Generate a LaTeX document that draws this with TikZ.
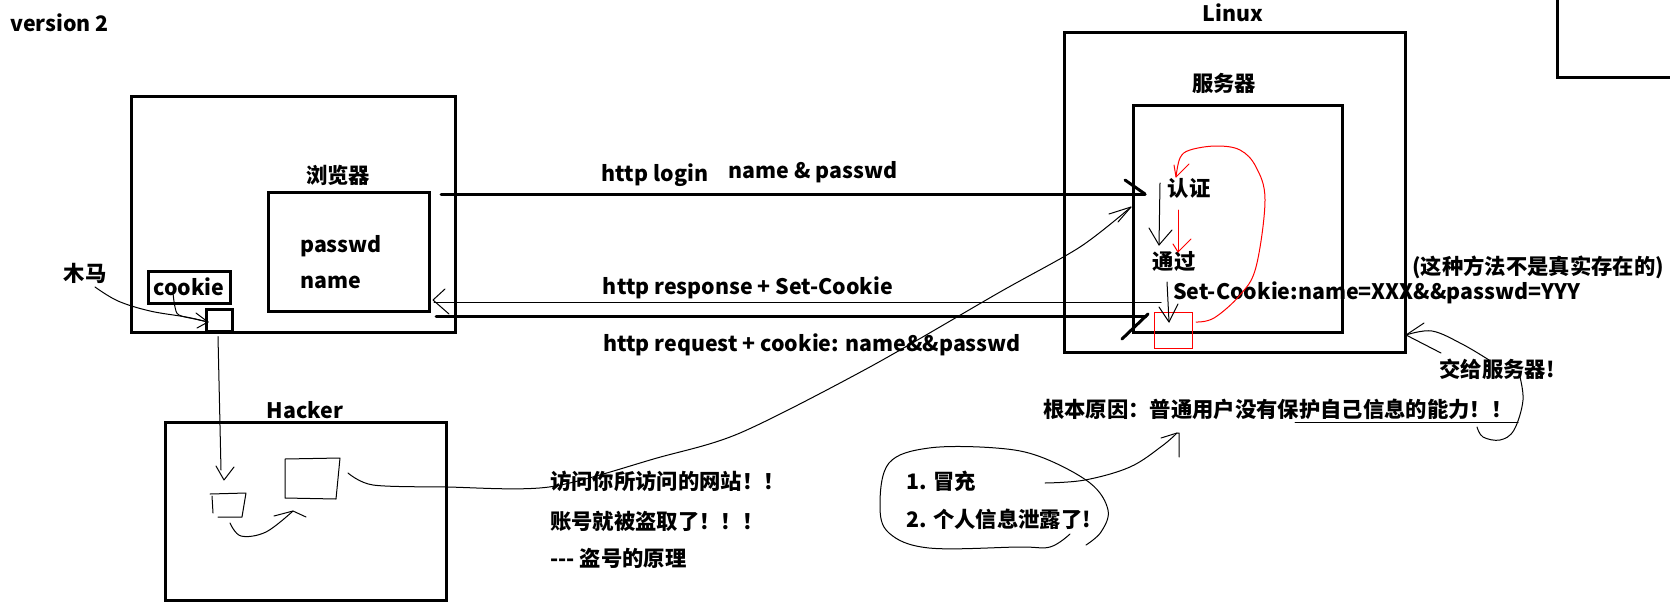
\documentclass[tikz,border=0pt]{standalone}
\usepackage{fontspec}
\setmainfont{Noto Sans CJK SC}
\usetikzlibrary{fit}
\begin{document}
\begin{tikzpicture}[x=0.75pt,y=-0.75pt,
  box/.style={draw, line width=2.25pt, inner sep=0pt},
  thinbox/.style={draw, line width=0.75pt, inner sep=0pt},
  lbl/.style={font=\bfseries\fontsize{16}{18}\selectfont, inner sep=0pt},
  hand/.style={line width=0.75pt, line cap=round, line join=round},
  thickln/.style={line width=2.25pt, line cap=round}]
\useasboundingbox (0,0) rectangle (1670,607);

% ---------- boxes ----------
\node[box, fit={(131,96) (455,332)}] (browser) {};
\node[box, fit={(268,192) (429,311)}] (bwin) {};
\node[box, fit={(148,271) (230,303)}] (cookiebox) {};
\node[box, fit={(206,309) (232,331)}] (trojan) {};
\node[box, fit={(1064,32) (1405,352)}] (linux) {};
\node[box, fit={(1133,105) (1342,332)}] (server) {};
\node[thinbox, draw=red, fit={(1154,312) (1192,348)}] (redbox) {};
\node[box, fit={(165,422) (446,600)}] (hacker) {};
\coordinate (tr1) at (1557,0);
\coordinate (tr2) at (1557,77);
\coordinate (tr3) at (1670,77);
\draw[line width=2.25pt] (tr1) -- (tr2) -- (tr3);

% ---------- texts ----------
\node[lbl, anchor=west] (v2) at (10,23) {version 2};
\node[lbl] (tbrowser) at (338,175) {浏览器};
\node[lbl, anchor=west] (tpass) at (300,246) {passwd};
\node[lbl, anchor=west] (tname) at (300,282) {name};
\node[lbl] (tmuma) at (85,273) {木马};
\node[lbl] (tcookie) at (189,287) {cookie};
\node[lbl] (tlogin) at (655,175) {http login};
\node[lbl] (tnp) at (813,172) {name \& passwd};
\node[lbl] (tresp) at (748,288) {http response + Set-Cookie};
\node[lbl] (treq) at (812,345) {http request + cookie: name\&\&passwd};
\node[lbl] (tlinux) at (1233,13) {Linux};
\node[lbl] (tserver) at (1224,83) {服务器};
\node[lbl] (tauth) at (1189,188) {认证};
\node[lbl] (tpass2) at (1174,262) {通过};
\node[lbl, anchor=west] (tset) at (1173,293) {Set-Cookie:name=XXX\&\&passwd=YYY};
\node[lbl] (tnote) at (1538,267) {(这种方法不是真实存在的)};
\node[lbl] (tgive) at (1497,369) {交给服务器!};
\node[lbl, anchor=west] (treason) at (1043,409) {根本原因：普通用户没有保护自己信息的能力！！};
\node[lbl] (thacker) at (305,410) {Hacker};
\node[lbl, anchor=west] (tvisit) at (550,481) {访问你所访问的网站！！};
\node[lbl, anchor=west] (tstolen) at (550,521) {账号就被盗取了！！！};
\node[lbl, anchor=west] (tprinc) at (550,558) {-{}-{}- 盗号的原理};
\node[lbl, anchor=west] (tfake) at (906,481) {1. 冒充};
\node[lbl, anchor=west] (tleak) at (906,519) {2. 个人信息泄露了!};

% ---------- main arrows ----------
\coordinate (a1s) at (441,194);
\coordinate (a1e) at (1145,194);
\coordinate (a1b) at (1125,180);
\draw[thickln] (a1s) -- (a1e);
\draw[thickln] (a1b) -- (a1e);

\coordinate (a2s) at (1161,302);
\coordinate (a2e) at (433,300);
\draw[hand] (a2s) -- (434,302);
\draw[hand] (445,289) -- (a2e) -- (449,314);

\coordinate (a3s) at (436,316);
\coordinate (a3e) at (1146,316);
\coordinate (a3b) at (1122,339);
\draw[thickln] (a3s) -- (a3e);
\draw[thickln] (a3b) -- (1148,314);

% trojan -> hacker
\coordinate (vt) at (224,480);
\draw[hand] (trojan.south) ++(-1,4) coordinate (vs) -- (221,470);
\draw[hand] (216,466) -- (vt) -- (234,467);

% muma -> trojan, cookie -> trojan
\coordinate (mu1) at (95,287);
\coordinate (mu2) at (208,322);
\draw[hand] plot[smooth, tension=0.6] coordinates {(mu1) (118,301) (150,311) (186,317) (mu2)};
\draw[hand] (196,313) -- (mu2) -- (197,328);
\coordinate (ck1) at (173,293);
\draw[hand] plot[smooth, tension=0.6] coordinates {(ck1) (175,307) (179,315) (195,319) (mu2)};

% hacker boxes
\draw[hand] (210,494) -- (246,493) -- (242,517) -- (218,517);
\draw[hand] (212,496) -- (213,513);
\draw[hand] (285,459) -- (340,458) -- (336,499) -- (285,498) -- cycle;
\coordinate (hc1) at (230,523);
\coordinate (hc2) at (293,511);
\draw[hand] plot[smooth, tension=0.6] coordinates {(hc1) (241,536) (266,532) (hc2)};
\draw[hand] (274,516) -- (hc2) -- (306,517);

% hacker -> server
\coordinate (hk1) at (348,473);
\coordinate (hk2) at (1131,207);
\draw[hand] plot[smooth, tension=0.5] coordinates {(hk1) (373,485) (446,487) (549,487) (657,458) (740,433) (868,368) (1000,292) (1080,247) (hk2)};
\draw[hand] (1109,214) -- (hk2) -- (1118,222);

% inside server
\coordinate (s1) at (1160,183);
\coordinate (s2) at (1159,245);
\draw[hand] (s1) -- (s2);
\draw[hand] (1149,228) -- (s2) -- (1172,230);
\coordinate (r1) at (1178,210);
\coordinate (r2) at (1178,252);
\draw[hand, red] (r1) -- (r2);
\draw[hand, red] (1173,244) -- (r2) -- (1191,239);
\coordinate (p1) at (1167,282);
\coordinate (p2) at (1169,322);
\draw[hand] (p1) -- (p2);
\draw[hand] (1159,307) -- (p2) -- (1178,304);
\coordinate (rc1) at (1196,322);
\coordinate (rc2) at (1176,177);
\draw[hand, red] plot[smooth, tension=0.6] coordinates {(rc1) (1214,318) (1240,295) (1256,267) (1265,200) (1256,167) (1240,150) (1216,146) (1190,150) (1180,158) (rc2)};
\draw[hand, red] (1174,165) -- (rc2) -- (1189,164);

% give to server
\coordinate (g1) at (1489,360);
\coordinate (g2) at (1406,335);
\draw[hand] plot[smooth, tension=0.6] coordinates {(g1) (1462,344) (1432,331) (g2)};
\draw[hand] (1424,323) -- (g2) -- (1441,353);
\coordinate (g3) at (1519,373);
\coordinate (g4) at (1477,427);
\draw[hand] plot[smooth, tension=0.6] coordinates {(g3) (1523,400) (1514,430) (1500,440) (1483,437) (g4)};
\coordinate (u1) at (1295,422);
\coordinate (u2) at (1518,422);
\draw[hand] (u1) -- (u2);

% ellipse and arrow
\draw[hand] plot[smooth, tension=0.6] coordinates {(1070,534) (1050,547) (1019,547) (929,548) (889,533) (880,505) (889,463) (929,448) (996,448) (1041,457) (1090,483) (1108,510) (1101,532) (1086,545)};
\coordinate (f1) at (1045,483);
\coordinate (f2) at (1177,433);
\draw[hand] plot[smooth, tension=0.6] coordinates {(f1) (1085,480) (1130,467) (1162,446) (f2)};
\draw[hand] (1161,438) -- (f2) -- (1179,433) -- (1179,457);
\end{tikzpicture}
\end{document}
